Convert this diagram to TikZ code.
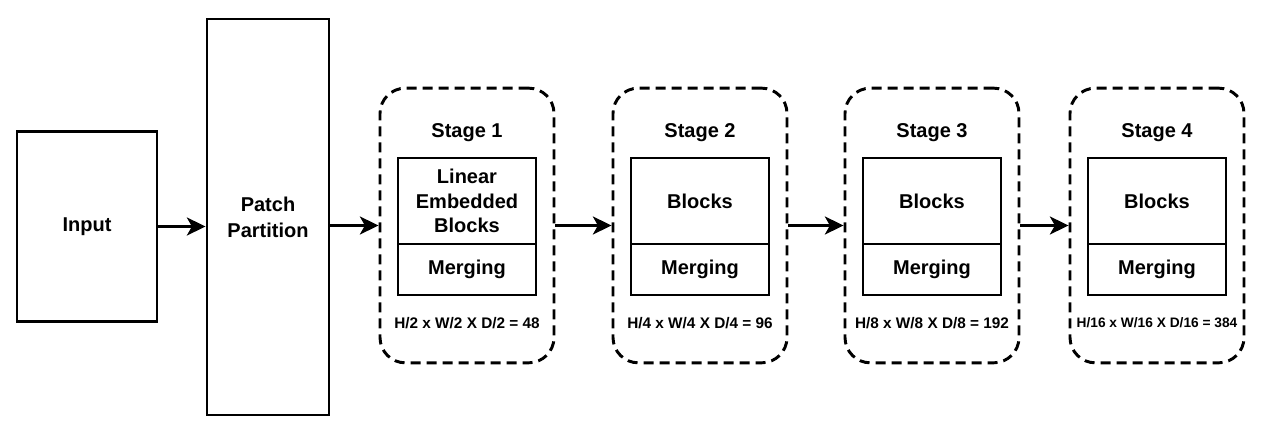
\documentclass[tikz,border=0pt]{standalone}
\usepackage{fontspec}
\setmainfont{Liberation Sans}
\usetikzlibrary{arrows.meta}
\def\dimtext{\fontsize{11.5}{14}\selectfont}
\def\dimtextsmall{\fontsize{10.3}{13}\selectfont}

\begin{document}
\begin{tikzpicture}[x=0.75pt, y=-0.75pt,
		font=\fontsize{15}{19}\selectfont\bfseries,
		box/.style={draw, line width=2.2pt, align=center, inner sep=0pt},
		stagebox/.style={draw, line width=2.2pt, dash pattern=on 7.5pt off 4.5pt, rounded corners=19pt, minimum width=130.5pt, minimum height=206pt},
		upperbox/.style={box, minimum width=103.5pt, minimum height=64.5pt},
		mergebox/.style={box, minimum width=103.5pt, minimum height=38.25pt},
		flow/.style={line width=2.1pt, -{Stealth[length=14pt, width=13.5pt, inset=3.8pt]}}]
		%%%%% START %%%%%
		
		\useasboundingbox (0, 0) rectangle (1270, 434);
		
		\node[box, minimum width=105pt, minimum height=143pt] (input) at (87, 226.5) {Input};
		\node[box, minimum width=91.5pt, minimum height=297pt, font=\fontsize{15}{19.5}\selectfont\bfseries] (patch) at (268, 217) {Patch\\Partition};
		
		% stage 1
		\node[stagebox] (stage1) at (467, 225.5) {};
		\node (title1) at (467, 133) {Stage 1};
		\node[upperbox, font=\fontsize{15}{18.5}\selectfont\bfseries] (blocks1) at (467, 201) {Linear\\Embedded\\Blocks};
		\node[mergebox] (merge1) at (467, 269.5) {Merging};
		\node[font=\dimtext\bfseries] (dim1) at (467, 323) {H/2 x W/2 X D/2 = 48};
		
		% stage 2
		\node[stagebox] (stage2) at (700, 225.5) {};
		\node (title2) at (700, 133) {Stage 2};
		\node[upperbox] (blocks2) at (700, 201) {Blocks};
		\node[mergebox] (merge2) at (700, 269.5) {Merging};
		\node[font=\dimtext\bfseries] (dim2) at (700, 323) {H/4 x W/4 X D/4 = 96};
		
		% stage 3
		\node[stagebox] (stage3) at (932, 225.5) {};
		\node (title3) at (932, 133) {Stage 3};
		\node[upperbox] (blocks3) at (932, 201) {Blocks};
		\node[mergebox] (merge3) at (932, 269.5) {Merging};
		\node[font=\dimtext\bfseries] (dim3) at (932, 323) {H/8 x W/8 X D/8 = 192};
		
		% stage 4
		\node[stagebox] (stage4) at (1157, 225.5) {};
		\node (title4) at (1157, 133) {Stage 4};
		\node[upperbox] (blocks4) at (1157, 201) {Blocks};
		\node[mergebox] (merge4) at (1157, 269.5) {Merging};
		\node[font=\dimtextsmall\bfseries] (dim4) at (1157, 323) {H/16 x W/16 X D/16 = 384};
		
		% arrows
		\draw[flow] (input.east) -- (input.east -| patch.west);
		\draw[flow] (patch.east |- stage1.west) -- (stage1.west);
		\draw[flow] (stage1.east) -- (stage2.west);
		\draw[flow] (stage2.east) -- (stage3.west);
		\draw[flow] (stage3.east) -- (stage4.west);
		
		%%%%% END %%%%%
\end{tikzpicture}
\end{document}
